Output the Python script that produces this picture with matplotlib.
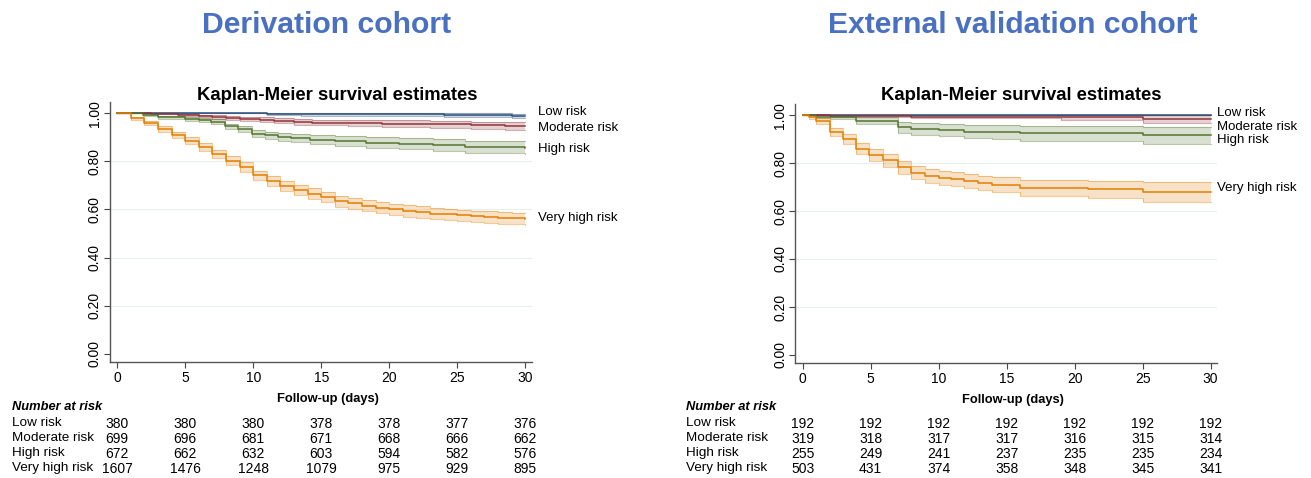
import matplotlib
matplotlib.use("Agg")
import matplotlib.pyplot as plt
import matplotlib.transforms as mtransforms
import numpy as np

plt.rcParams['font.family'] = ['Liberation Sans', 'DejaVu Sans']

# ---- derivation cohort (step times in days, survival, CI half-width) ----
der_low_t = [0, 11, 13.5, 24, 29, 30]
der_low_s = [1.0, 0.997, 0.995, 0.992, 0.988, 0.988]
der_low_ci = [0, 0.003, 0.005, 0.008, 0.010, 0.010]

der_mod_t = [0, 2.5, 4.5, 6, 7, 8, 9, 10.5, 11.5, 13, 14.3, 17, 19.5, 23, 26, 28.5, 30]
der_mod_s = [1.0, 0.997, 0.993, 0.988, 0.984, 0.980, 0.976, 0.972, 0.968, 0.964,
             0.961, 0.958, 0.956, 0.953, 0.950, 0.947, 0.947]
der_mod_ci = [0, 0.002, 0.004, 0.006, 0.007, 0.008, 0.009, 0.010, 0.011, 0.012,
              0.012, 0.013, 0.014, 0.014, 0.015, 0.015, 0.016]

der_high_t = [0, 1.9, 3.0, 5.0, 6.0, 6.9, 7.9, 8.9, 9.9, 10.9, 11.8, 12.8, 14.2,
              16, 18.3, 20.7, 23.2, 25.6, 30]
der_high_s = [1.0, 0.993, 0.983, 0.976, 0.970, 0.965, 0.945, 0.934, 0.915, 0.908,
              0.902, 0.897, 0.890, 0.884, 0.878, 0.872, 0.867, 0.859, 0.857]
der_high_ci = [0, 0.004, 0.006, 0.007, 0.008, 0.009, 0.011, 0.012, 0.014, 0.015,
               0.016, 0.017, 0.019, 0.020, 0.022, 0.023, 0.025, 0.026, 0.027]

der_vh_t = list(range(31))
der_vh_s = [1.0, 0.978, 0.959, 0.934, 0.909, 0.886, 0.858, 0.831, 0.803, 0.776,
            0.741, 0.717, 0.697, 0.680, 0.666, 0.652, 0.634, 0.625, 0.615, 0.607,
            0.600, 0.594, 0.589, 0.583, 0.579, 0.575, 0.571, 0.568, 0.565, 0.563, 0.561]
der_vh_ci = [0, 0.007, 0.009, 0.011, 0.013, 0.015, 0.016, 0.017, 0.018, 0.019,
             0.020, 0.021, 0.021, 0.022, 0.022, 0.022, 0.023, 0.023, 0.023, 0.023,
             0.023, 0.024, 0.024, 0.024, 0.024, 0.024, 0.024, 0.024, 0.024, 0.024, 0.024]

# ---- external validation cohort ----
val_low_t = [0, 30]
val_low_s = [1.0, 1.0]
val_low_ci = [0, 0]

val_mod_t = [0, 2.0, 8.0, 19.0, 25.0, 30]
val_mod_s = [1.0, 0.997, 0.994, 0.990, 0.983, 0.983]
val_mod_ci = [0, 0.004, 0.007, 0.011, 0.018, 0.018]

val_high_t = [0, 1.0, 2.0, 3.9, 7.0, 8.0, 10.0, 11.9, 13.9, 16.0, 25.0, 30]
val_high_s = [1.0, 0.994, 0.990, 0.976, 0.949, 0.942, 0.938, 0.931, 0.928, 0.924, 0.915, 0.915]
val_high_ci = [0, 0.006, 0.008, 0.015, 0.022, 0.024, 0.026, 0.028, 0.029, 0.030, 0.034, 0.034]

val_vh_t = [0, 0.5, 1.0, 2.0, 3.0, 3.9, 4.9, 5.9, 7.0, 8.0, 9.0, 10.0, 10.9, 11.9,
            12.9, 13.9, 16.0, 21.0, 25.0, 30]
val_vh_s = [1.0, 0.990, 0.976, 0.928, 0.900, 0.859, 0.834, 0.811, 0.783, 0.760,
            0.746, 0.737, 0.732, 0.724, 0.718, 0.709, 0.697, 0.690, 0.679, 0.679]
val_vh_ci = [0, 0.008, 0.012, 0.017, 0.020, 0.023, 0.025, 0.026, 0.027, 0.028,
             0.028, 0.029, 0.029, 0.030, 0.030, 0.031, 0.033, 0.036, 0.040, 0.040]

groups = ["Low risk", "Moderate risk", "High risk", "Very high risk"]
risk_times = [0, 5, 10, 15, 20, 25, 30]
der_at_risk = [[380, 380, 380, 378, 378, 377, 376],
               [699, 696, 681, 671, 668, 666, 662],
               [672, 662, 632, 603, 594, 582, 576],
               [1607, 1476, 1248, 1079, 975, 929, 895]]
val_at_risk = [[192, 192, 192, 192, 192, 192, 192],
               [319, 318, 317, 317, 316, 315, 314],
               [255, 249, 241, 237, 235, 235, 234],
               [503, 431, 374, 358, 348, 345, 341]]

der_label_y = [1.006, 0.940, 0.849, 0.563]
val_label_y = [1.007, 0.950, 0.897, 0.694]

colors = ["#2c4f7c", "#90353b", "#55752f", "#e37e00"]
title_blue = "#4a70c2"

W, H = 1311, 478
fig = plt.figure(figsize=(W / 100, H / 100), dpi=100)


def draw_panel(ax, curves, label_y, label_x):
    for v in [0.2, 0.4, 0.6, 0.8]:
        ax.axhline(v, color="#e9eff1", lw=0.8, zorder=0)
    for (t, s, ci), c in zip(curves, colors):
        s = np.array(s)
        ci = np.array(ci)
        lo = s - ci
        hi = np.minimum(s + ci, 1.0)
        ax.fill_between(t, lo, hi, step="post", color=c, alpha=0.22, lw=0, zorder=1)
        ax.step(t, lo, where="post", color=c, alpha=0.4, lw=0.8, zorder=2)
        ax.step(t, hi, where="post", color=c, alpha=0.4, lw=0.8, zorder=2)
    for (t, s, ci), c in zip(curves, colors):
        ax.step(t, s, where="post", color=c, lw=1.1, zorder=3)
    for g, y in zip(groups, label_y):
        ax.text(label_x, y, g, fontsize=9.5, ha="left", va="center", clip_on=False)

    ax.set_xlim(-0.53, 30.5)
    ax.set_ylim(-0.035, 1.045)
    ax.set_xticks(risk_times)
    ax.set_yticks([0, 0.2, 0.4, 0.6, 0.8, 1.0])
    ax.set_yticklabels(["0.00", "0.20", "0.40", "0.60", "0.80", "1.00"],
                       rotation=90, va="center")
    ax.tick_params(labelsize=10, length=4, width=0.8, color="#444444", pad=2)
    for side in ["top", "right"]:
        ax.spines[side].set_visible(False)
    for side in ["left", "bottom"]:
        ax.spines[side].set_color("#555555")
        ax.spines[side].set_linewidth(1.0)


def draw_table(ax, counts, x_label):
    tr = mtransforms.blended_transform_factory(ax.transData, fig.transFigure)
    fig.text(x_label / W, 1 - 407 / H, "Number at risk", fontsize=9.3,
             fontweight="bold", style="italic", ha="left", va="center")
    row_y = [424, 439, 454, 469]
    for g, row, y in zip(groups, counts, row_y):
        fig.text(x_label / W, 1 - (y - 1) / H, g, fontsize=9.7, ha="left", va="center")
        for t, n in zip(risk_times, row):
            ax.text(t, 1 - y / H, str(n), transform=tr, fontsize=10, ha="center",
                    va="center", family=["Liberation Sans Narrow", "Liberation Sans"])


ax1 = fig.add_axes([110 / W, 1 - 362.3 / H, 422 / W, 260 / H])
draw_panel(ax1, [(der_low_t, der_low_s, der_low_ci),
                 (der_mod_t, der_mod_s, der_mod_ci),
                 (der_high_t, der_high_s, der_high_ci),
                 (der_vh_t, der_vh_s, der_vh_ci)], der_label_y, 30.95)
draw_table(ax1, der_at_risk, 12)

ax2 = fig.add_axes([795.4 / W, 1 - 363.3 / H, 422 / W, 259 / H])
draw_panel(ax2, [(val_low_t, val_low_s, val_low_ci),
                 (val_mod_t, val_mod_s, val_mod_ci),
                 (val_high_t, val_high_s, val_high_ci),
                 (val_vh_t, val_vh_s, val_vh_ci)], val_label_y, 30.45)
draw_table(ax2, val_at_risk, 686)

fig.text(327 / W, 1 - 33 / H, "Derivation cohort", fontsize=21.7, fontweight="bold",
         color=title_blue, ha="center", va="baseline")
fig.text(1013 / W, 1 - 33 / H, "External validation cohort", fontsize=21.7,
         fontweight="bold", color=title_blue, ha="center", va="baseline")
fig.text(337 / W, 1 - 100 / H, "Kaplan-Meier survival estimates", fontsize=13.3,
         fontweight="bold", ha="center", va="baseline")
fig.text(1021 / W, 1 - 100 / H, "Kaplan-Meier survival estimates", fontsize=13.3,
         fontweight="bold", ha="center", va="baseline")
fig.text(328 / W, 1 - 399 / H, "Follow-up (days)", fontsize=9.3, fontweight="bold",
         ha="center", va="center")
fig.text(1013 / W, 1 - 400 / H, "Follow-up (days)", fontsize=9.3, fontweight="bold",
         ha="center", va="center")

fig.savefig("out.png", dpi=100)
